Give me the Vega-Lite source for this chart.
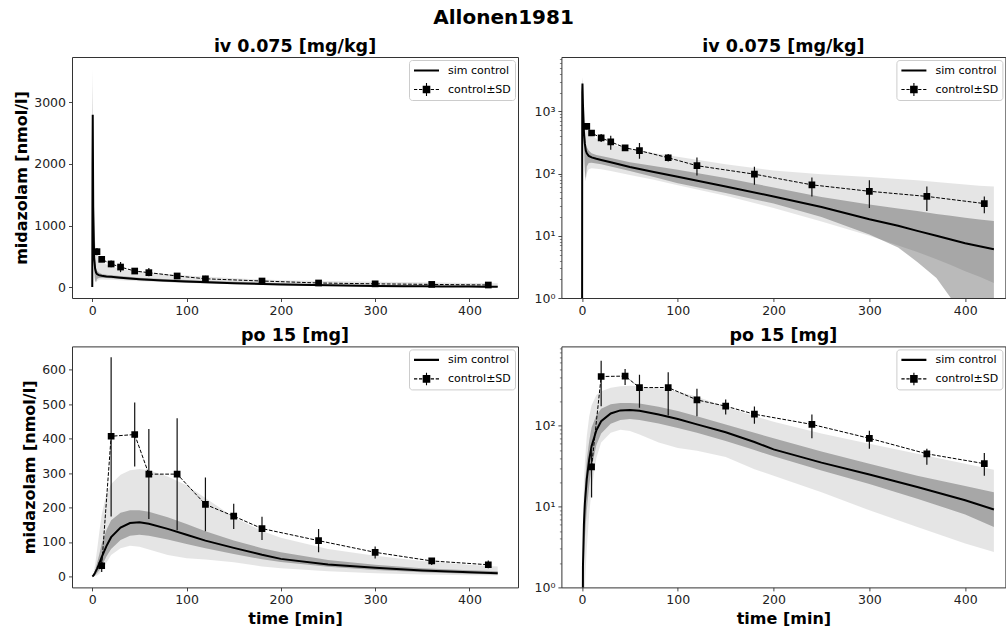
{
"$schema": "https://vega.github.io/schema/vega-lite/v6.json",
"padding": {"left": 13, "top": 8, "right": 0, "bottom": 0},
"background": "white",
"title": {"text": "Allonen1981", "fontSize": 20, "anchor": "middle", "offset": 9, "dx": -6, "frame": "bounds"},
"datasets": {
"sim_iv": [
{"t":0,"med":0.001,"amin":0.001,"amax":0.001,"blo":0.001,"bhi":0.001},
{"t":0.25,"med":2000,"amin":800,"amax":3300,"blo":1500,"bhi":2600},
{"t":0.5,"med":2800,"amin":1500,"amax":3560,"blo":2300,"bhi":3300},
{"t":1,"med":1300,"amin":500,"amax":2200,"blo":900,"bhi":1700},
{"t":2,"med":480,"amin":150,"amax":1100,"blo":280,"bhi":700},
{"t":3,"med":300,"amin":90,"amax":750,"blo":110,"bhi":420},
{"t":4,"med":235,"amin":85,"amax":600,"blo":75,"bhi":300},
{"t":5,"med":212,"amin":100,"amax":520,"blo":130,"bhi":265},
{"t":7,"med":193,"amin":118,"amax":460,"blo":148,"bhi":235},
{"t":10,"med":182,"amin":122,"amax":410,"blo":150,"bhi":212},
{"t":15,"med":173,"amin":120,"amax":365,"blo":146,"bhi":200},
{"t":20,"med":166,"amin":117,"amax":335,"blo":142,"bhi":192},
{"t":30,"med":152,"amin":110,"amax":295,"blo":130,"bhi":178},
{"t":50,"med":128,"amin":95,"amax":250,"blo":110,"bhi":153},
{"t":75,"med":106,"amin":80,"amax":215,"blo":88,"bhi":132},
{"t":100,"med":89,"amin":65,"amax":187,"blo":70,"bhi":115},
{"t":150,"med":62,"amin":44,"amax":142,"blo":49,"bhi":85},
{"t":200,"med":43,"amin":28,"amax":112,"blo":33,"bhi":60},
{"t":250,"med":29,"amin":17,"amax":98,"blo":20,"bhi":42},
{"t":300,"med":18.5,"amin":10,"amax":88,"blo":10.5,"bhi":32},
{"t":330,"med":14.5,"amin":7,"amax":82,"blo":6.5,"bhi":27.5},
{"t":350,"med":12,"amin":5.5,"amax":78,"blo":3.8,"bhi":25},
{"t":370,"med":10,"amin":4.2,"amax":73,"blo":2.1,"bhi":22.5},
{"t":385,"med":8.7,"amin":3.4,"amax":70,"blo":1.0,"bhi":21},
{"t":400,"med":7.6,"amin":2.7,"amax":67,"blo":0.3,"bhi":19.5},
{"t":415,"med":6.8,"amin":2.2,"amax":64,"blo":0.1,"bhi":18.3},
{"t":430,"med":6.1,"amin":1.75,"amax":62,"blo":0.05,"bhi":17.3}
],
"sim_po": [
{"t":0,"med":0.001,"amin":0.001,"amax":0.001,"blo":0.001,"bhi":0.001},
{"t":1,"med":1.8,"amin":0.1,"amax":6,"blo":0.5,"bhi":3},
{"t":2,"med":6,"amin":0.5,"amax":20,"blo":2,"bhi":10},
{"t":3,"med":11,"amin":1,"amax":35,"blo":4,"bhi":18},
{"t":5,"med":22,"amin":3,"amax":75,"blo":9,"bhi":38},
{"t":7.5,"med":38,"amin":8,"amax":130,"blo":18,"bhi":65},
{"t":10,"med":56,"amin":16,"amax":180,"blo":30,"bhi":95},
{"t":15,"med":88,"amin":40,"amax":240,"blo":58,"bhi":135},
{"t":20,"med":114,"amin":62,"amax":268,"blo":80,"bhi":163},
{"t":30,"med":142,"amin":82,"amax":295,"blo":106,"bhi":185},
{"t":40,"med":155,"amin":89,"amax":308,"blo":118,"bhi":192},
{"t":50,"med":157,"amin":86,"amax":312,"blo":121,"bhi":192},
{"t":60,"med":153,"amin":78,"amax":308,"blo":118,"bhi":188},
{"t":80,"med":138,"amin":62,"amax":290,"blo":107,"bhi":172},
{"t":100,"med":121,"amin":53,"amax":265,"blo":94,"bhi":152},
{"t":120,"med":104,"amin":49,"amax":228,"blo":82,"bhi":131},
{"t":150,"med":83,"amin":41,"amax":172,"blo":65,"bhi":104},
{"t":180,"med":63,"amin":29,"amax":132,"blo":50,"bhi":82},
{"t":200,"med":51,"amin":24,"amax":112,"blo":42,"bhi":70},
{"t":250,"med":35,"amin":15,"amax":80,"blo":28,"bhi":48},
{"t":300,"med":25,"amin":9,"amax":60,"blo":19,"bhi":34},
{"t":350,"med":17.5,"amin":5.6,"amax":45,"blo":12.5,"bhi":24},
{"t":400,"med":12,"amin":3.5,"amax":34,"blo":8,"bhi":18},
{"t":430,"med":9.2,"amin":2.74,"amax":28.6,"blo":5.6,"bhi":15}
],
"obs_iv": [
{"t":5,"c":575,"lo":515,"hi":635},
{"t":10,"c":450,"lo":420,"hi":480},
{"t":20,"c":375,"lo":322,"hi":433},
{"t":30,"c":325,"lo":242,"hi":407},
{"t":45,"c":260,"lo":232,"hi":288},
{"t":60,"c":234,"lo":174,"hi":311},
{"t":90,"c":180,"lo":157,"hi":207},
{"t":120,"c":134,"lo":93,"hi":182},
{"t":180,"c":98,"lo":66,"hi":129},
{"t":240,"c":66,"lo":43,"hi":87},
{"t":300,"c":52,"lo":28,"hi":78},
{"t":360,"c":43,"lo":25,"hi":62},
{"t":420,"c":33,"lo":23,"hi":43}
],
"obs_po": [
{"t":10,"c":31,"lo":13,"hi":53},
{"t":20,"c":407,"lo":174,"hi":636},
{"t":45,"c":412,"lo":319,"hi":505},
{"t":60,"c":297,"lo":167,"hi":428},
{"t":90,"c":297,"lo":134,"hi":459},
{"t":120,"c":209,"lo":131,"hi":287},
{"t":150,"c":175,"lo":138,"hi":211},
{"t":180,"c":139,"lo":106,"hi":173},
{"t":240,"c":104,"lo":70,"hi":138},
{"t":300,"c":70,"lo":52,"hi":87},
{"t":360,"c":45,"lo":33,"hi":52},
{"t":420,"c":34,"lo":24,"hi":46}
]
},
"columns": 2,
"spacing": {"row": 48.4, "column": 43.4},
"bounds": "flush",
"resolve": {"scale": {"shape": "independent"}, "legend": {"shape": "independent"}},
"concat": [
{
"width": 446, "height": 241,
"title": "iv 0.075 [mg/kg]",
"encoding": {"x": {"field": "t", "type": "quantitative", "title": null, "scale": {"domain": [-21.5, 451.5], "nice": false, "zero": false}, "axis": {"values": [0,100,200,300,400]}}},
"layer": [
{"data": {"name": "sim_iv"}, "mark": {"type": "area", "color": "#000", "opacity": 0.1, "clip": true},
 "encoding": {"y": {"field": "amax", "type": "quantitative", "title": "midazolam [nmol/l]", "scale": {"domain": [-178, 3738], "nice": false, "zero": false}, "axis": {"values": [0,500,1000,1500,2000,2500,3000,3500], "format": "d"}}, "y2": {"field": "amin"}}},
{"data": {"name": "sim_iv"}, "mark": {"type": "area", "color": "#000", "opacity": 0.27, "clip": true},
 "encoding": {"y": {"field": "bhi", "type": "quantitative", "title": "midazolam [nmol/l]", "scale": {"domain": [-178, 3738], "nice": false, "zero": false}}, "y2": {"field": "blo"}}},
{"data": {"name": "sim_iv"}, "mark": {"type": "line", "color": "#000", "strokeWidth": 2, "clip": true},
 "encoding": {"y": {"field": "med", "type": "quantitative", "title": "midazolam [nmol/l]", "scale": {"domain": [-178, 3738], "nice": false, "zero": false}}}},
{"data": {"name": "obs_iv"}, "mark": {"type": "line", "color": "#000", "strokeWidth": 1, "strokeDash": [3.7, 1.6], "clip": true},
 "encoding": {"y": {"field": "c", "type": "quantitative", "title": "midazolam [nmol/l]", "scale": {"domain": [-178, 3738], "nice": false, "zero": false}}}},
{"data": {"name": "obs_iv"}, "mark": {"type": "rule", "color": "#111", "strokeWidth": 1.2, "clip": true},
 "encoding": {"y": {"field": "lo", "type": "quantitative", "title": "midazolam [nmol/l]", "scale": {"domain": [-178, 3738], "nice": false, "zero": false}}, "y2": {"field": "hi"}}},
{"data": {"name": "obs_iv"}, "mark": {"type": "point", "shape": "square", "filled": true, "size": 45, "opacity": 1, "color": "#000", "clip": true},
 "encoding": {"y": {"field": "c", "type": "quantitative", "title": "midazolam [nmol/l]", "scale": {"domain": [-178, 3738], "nice": false, "zero": false}}}},
{"data": {"name": "obs_iv"}, "mark": {"type": "point", "filled": false, "color": "#000", "strokeWidth": 1.1, "opacity": 0, "clip": true},
 "encoding": {"y": {"field": "c", "type": "quantitative", "title": "midazolam [nmol/l]", "scale": {"domain": [-178, 3738], "nice": false, "zero": false}},
  "shape": {"datum": "control±SD", "scale": {"domain": ["sim control", "control±SD"], "range": ["M-1,-0.04H1M-1,0.04H1", "M-1,0H-0.74M-0.6,0H-0.34M0.34,0H0.6M0.74,0H1M-0.26,-0.26H0.26V0.26H-0.26ZM-0.26,-0.18H0.26M-0.26,-0.1H0.26M-0.26,-0.02H0.26M-0.26,0.06H0.26M-0.26,0.14H0.26M-0.26,0.22H0.26M0,-0.52V0.52"]},
   "legend": {"title": null, "orient": "top-right", "offset": 3, "symbolOpacity": 1, "symbolStrokeWidth": 1.1}}}}
]
},
{
"width": 444, "height": 241,
"title": "iv 0.075 [mg/kg]",
"encoding": {"x": {"field": "t", "type": "quantitative", "title": null, "scale": {"domain": [-21.5, 442], "nice": false, "zero": false}, "axis": {"values": [0,100,200,300,400]}}},
"layer": [
{"data": {"name": "sim_iv"}, "mark": {"type": "area", "color": "#000", "opacity": 0.1, "clip": true},
 "encoding": {"y": {"field": "amax", "type": "quantitative", "title": null, "scale": {"type": "log", "domain": [1, 7500], "nice": false}, "axis": {"values": [1,2,3,4,5,6,7,8,9,10,20,30,40,50,60,70,80,90,100,200,300,400,500,600,700,800,900,1000,2000,3000,4000,5000,6000,7000], "labelExpr": "datum.value == 1 ? '10⁰' : datum.value == 10 ? '10¹' : datum.value == 100 ? '10²' : datum.value == 1000 ? '10³' : ''", "tickSize": {"condition": {"test": "indexof([1,10,100,1000], datum.value) >= 0", "value": 3.5}, "value": 2}, "tickWidth": {"condition": {"test": "indexof([1,10,100,1000], datum.value) >= 0", "value": 0.9}, "value": 0.6}, "labelFontSize": {"condition": {"test": "indexof([1,10,100,1000], datum.value) >= 0", "value": 12.5}, "value": 0}}}, "y2": {"field": "amin"}}},
{"data": {"name": "sim_iv"}, "mark": {"type": "area", "color": "#000", "opacity": 0.27, "clip": true},
 "encoding": {"y": {"field": "bhi", "type": "quantitative", "title": null, "scale": {"type": "log", "domain": [1, 7500], "nice": false}}, "y2": {"field": "blo"}}},
{"data": {"name": "sim_iv"}, "mark": {"type": "line", "color": "#000", "strokeWidth": 2, "clip": true},
 "encoding": {"y": {"field": "med", "type": "quantitative", "title": null, "scale": {"type": "log", "domain": [1, 7500], "nice": false}}}},
{"data": {"name": "obs_iv"}, "mark": {"type": "line", "color": "#000", "strokeWidth": 1, "strokeDash": [3.7, 1.6], "clip": true},
 "encoding": {"y": {"field": "c", "type": "quantitative", "title": null, "scale": {"type": "log", "domain": [1, 7500], "nice": false}}}},
{"data": {"name": "obs_iv"}, "mark": {"type": "rule", "color": "#111", "strokeWidth": 1.2, "clip": true},
 "encoding": {"y": {"field": "lo", "type": "quantitative", "title": null, "scale": {"type": "log", "domain": [1, 7500], "nice": false}}, "y2": {"field": "hi"}}},
{"data": {"name": "obs_iv"}, "mark": {"type": "point", "shape": "square", "filled": true, "size": 45, "opacity": 1, "color": "#000", "clip": true},
 "encoding": {"y": {"field": "c", "type": "quantitative", "title": null, "scale": {"type": "log", "domain": [1, 7500], "nice": false}}}},
{"data": {"name": "obs_iv"}, "mark": {"type": "point", "filled": false, "color": "#000", "strokeWidth": 1.1, "opacity": 0, "clip": true},
 "encoding": {"y": {"field": "c", "type": "quantitative", "title": null, "scale": {"type": "log", "domain": [1, 7500], "nice": false}},
  "shape": {"datum": "control±SD", "scale": {"domain": ["sim control", "control±SD"], "range": ["M-1,-0.04H1M-1,0.04H1", "M-1,0H-0.74M-0.6,0H-0.34M0.34,0H0.6M0.74,0H1M-0.26,-0.26H0.26V0.26H-0.26ZM-0.26,-0.18H0.26M-0.26,-0.1H0.26M-0.26,-0.02H0.26M-0.26,0.06H0.26M-0.26,0.14H0.26M-0.26,0.22H0.26M0,-0.52V0.52"]},
   "legend": {"title": null, "orient": "top-right", "offset": 3, "symbolOpacity": 1, "symbolStrokeWidth": 1.1}}}}
]
},
{
"width": 446, "height": 241,
"title": "po 15 [mg]",
"encoding": {"x": {"field": "t", "type": "quantitative", "title": "time [min]", "scale": {"domain": [-21.5, 451.5], "nice": false, "zero": false}, "axis": {"values": [0,100,200,300,400]}}},
"layer": [
{"data": {"name": "sim_po"}, "mark": {"type": "area", "color": "#000", "opacity": 0.1, "clip": true},
 "encoding": {"y": {"field": "amax", "type": "quantitative", "title": "midazolam [nmol/l]", "scale": {"domain": [-31.8, 667.8], "nice": false, "zero": false}, "axis": {"values": [0,100,200,300,400,500,600], "format": "d"}}, "y2": {"field": "amin"}}},
{"data": {"name": "sim_po"}, "mark": {"type": "area", "color": "#000", "opacity": 0.27, "clip": true},
 "encoding": {"y": {"field": "bhi", "type": "quantitative", "title": "midazolam [nmol/l]", "scale": {"domain": [-31.8, 667.8], "nice": false, "zero": false}}, "y2": {"field": "blo"}}},
{"data": {"name": "sim_po"}, "mark": {"type": "line", "color": "#000", "strokeWidth": 2, "clip": true},
 "encoding": {"y": {"field": "med", "type": "quantitative", "title": "midazolam [nmol/l]", "scale": {"domain": [-31.8, 667.8], "nice": false, "zero": false}}}},
{"data": {"name": "obs_po"}, "mark": {"type": "line", "color": "#000", "strokeWidth": 1, "strokeDash": [3.7, 1.6], "clip": true},
 "encoding": {"y": {"field": "c", "type": "quantitative", "title": "midazolam [nmol/l]", "scale": {"domain": [-31.8, 667.8], "nice": false, "zero": false}}}},
{"data": {"name": "obs_po"}, "mark": {"type": "rule", "color": "#111", "strokeWidth": 1.2, "clip": true},
 "encoding": {"y": {"field": "lo", "type": "quantitative", "title": "midazolam [nmol/l]", "scale": {"domain": [-31.8, 667.8], "nice": false, "zero": false}}, "y2": {"field": "hi"}}},
{"data": {"name": "obs_po"}, "mark": {"type": "point", "shape": "square", "filled": true, "size": 45, "opacity": 1, "color": "#000", "clip": true},
 "encoding": {"y": {"field": "c", "type": "quantitative", "title": "midazolam [nmol/l]", "scale": {"domain": [-31.8, 667.8], "nice": false, "zero": false}}}},
{"data": {"name": "obs_po"}, "mark": {"type": "point", "filled": false, "color": "#000", "strokeWidth": 1.1, "opacity": 0, "clip": true},
 "encoding": {"y": {"field": "c", "type": "quantitative", "title": "midazolam [nmol/l]", "scale": {"domain": [-31.8, 667.8], "nice": false, "zero": false}},
  "shape": {"datum": "control±SD", "scale": {"domain": ["sim control", "control±SD"], "range": ["M-1,-0.04H1M-1,0.04H1", "M-1,0H-0.74M-0.6,0H-0.34M0.34,0H0.6M0.74,0H1M-0.26,-0.26H0.26V0.26H-0.26ZM-0.26,-0.18H0.26M-0.26,-0.1H0.26M-0.26,-0.02H0.26M-0.26,0.06H0.26M-0.26,0.14H0.26M-0.26,0.22H0.26M0,-0.52V0.52"]},
   "legend": {"title": null, "orient": "top-right", "offset": 3, "symbolOpacity": 1, "symbolStrokeWidth": 1.1}}}}
]
},
{
"width": 444, "height": 241,
"title": "po 15 [mg]",
"encoding": {"x": {"field": "t", "type": "quantitative", "title": "time [min]", "scale": {"domain": [-21.5, 442], "nice": false, "zero": false}, "axis": {"values": [0,100,200,300,400]}}},
"layer": [
{"data": {"name": "sim_po"}, "mark": {"type": "area", "color": "#000", "opacity": 0.1, "clip": true},
 "encoding": {"y": {"field": "amax", "type": "quantitative", "title": null, "scale": {"type": "log", "domain": [1, 960], "nice": false}, "axis": {"values": [1,2,3,4,5,6,7,8,9,10,20,30,40,50,60,70,80,90,100,200,300,400,500,600,700,800,900], "labelExpr": "datum.value == 1 ? '10⁰' : datum.value == 10 ? '10¹' : datum.value == 100 ? '10²' : ''", "tickSize": {"condition": {"test": "indexof([1,10,100,1000], datum.value) >= 0", "value": 3.5}, "value": 2}, "tickWidth": {"condition": {"test": "indexof([1,10,100,1000], datum.value) >= 0", "value": 0.9}, "value": 0.6}, "labelFontSize": {"condition": {"test": "indexof([1,10,100,1000], datum.value) >= 0", "value": 12.5}, "value": 0}}}, "y2": {"field": "amin"}}},
{"data": {"name": "sim_po"}, "mark": {"type": "area", "color": "#000", "opacity": 0.27, "clip": true},
 "encoding": {"y": {"field": "bhi", "type": "quantitative", "title": null, "scale": {"type": "log", "domain": [1, 960], "nice": false}}, "y2": {"field": "blo"}}},
{"data": {"name": "sim_po"}, "mark": {"type": "line", "color": "#000", "strokeWidth": 2, "clip": true},
 "encoding": {"y": {"field": "med", "type": "quantitative", "title": null, "scale": {"type": "log", "domain": [1, 960], "nice": false}}}},
{"data": {"name": "obs_po"}, "mark": {"type": "line", "color": "#000", "strokeWidth": 1, "strokeDash": [3.7, 1.6], "clip": true},
 "encoding": {"y": {"field": "c", "type": "quantitative", "title": null, "scale": {"type": "log", "domain": [1, 960], "nice": false}}}},
{"data": {"name": "obs_po"}, "mark": {"type": "rule", "color": "#111", "strokeWidth": 1.2, "clip": true},
 "encoding": {"y": {"field": "lo", "type": "quantitative", "title": null, "scale": {"type": "log", "domain": [1, 960], "nice": false}}, "y2": {"field": "hi"}}},
{"data": {"name": "obs_po"}, "mark": {"type": "point", "shape": "square", "filled": true, "size": 45, "opacity": 1, "color": "#000", "clip": true},
 "encoding": {"y": {"field": "c", "type": "quantitative", "title": null, "scale": {"type": "log", "domain": [1, 960], "nice": false}}}},
{"data": {"name": "obs_po"}, "mark": {"type": "point", "filled": false, "color": "#000", "strokeWidth": 1.1, "opacity": 0, "clip": true},
 "encoding": {"y": {"field": "c", "type": "quantitative", "title": null, "scale": {"type": "log", "domain": [1, 960], "nice": false}},
  "shape": {"datum": "control±SD", "scale": {"domain": ["sim control", "control±SD"], "range": ["M-1,-0.04H1M-1,0.04H1", "M-1,0H-0.74M-0.6,0H-0.34M0.34,0H0.6M0.74,0H1M-0.26,-0.26H0.26V0.26H-0.26ZM-0.26,-0.18H0.26M-0.26,-0.1H0.26M-0.26,-0.02H0.26M-0.26,0.06H0.26M-0.26,0.14H0.26M-0.26,0.22H0.26M0,-0.52V0.52"]},
   "legend": {"title": null, "orient": "top-right", "offset": 3, "symbolOpacity": 1, "symbolStrokeWidth": 1.1}}}}
]
}
],
"config": {
"font": "DejaVu Sans",
"view": {"stroke": "#333", "strokeWidth": 1},
"axis": {"grid": false, "domain": false, "tickColor": "#333", "tickSize": 3.5, "tickWidth": 0.9, "labelFontSize": 12.5, "labelColor": "#222", "labelFont": "DejaVu Sans", "labelPadding": 3, "labelOverlap": false, "labelFlush": false, "titleFont": "DejaVu Sans", "titleFontSize": 16, "titleFontWeight": "bold", "titleColor": "#000", "titlePadding": 4},
"title": {"font": "DejaVu Sans", "fontSize": 17.5, "fontWeight": "bold", "color": "#000", "offset": 2, "frame": "group", "baseline": "bottom"},
"legend": {"fillColor": "white", "strokeColor": "#ccc", "cornerRadius": 3, "padding": 4, "labelFont": "DejaVu Sans", "labelFontSize": 11, "labelColor": "#000", "symbolSize": 625, "clipHeight": 13, "rowPadding": 6, "labelOffset": 8, "labelLimit": 200, "symbolOpacity": 1}
}
}
